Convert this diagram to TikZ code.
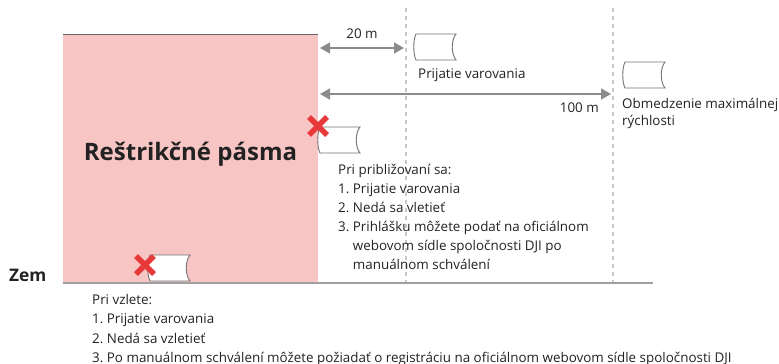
\documentclass[tikz,border=0pt]{standalone}
\usepackage{fontspec}
\setmainfont{Open Sans}
\usetikzlibrary{arrows.meta}
\frenchspacing
\definecolor{zonepink}{HTML}{F7C6C4}
\definecolor{txt}{HTML}{222222}
\definecolor{arrgray}{HTML}{8C8C8C}
\definecolor{dashgray}{HTML}{C8C8C8}
\definecolor{groundgray}{HTML}{A0A0A0}
\definecolor{xred}{HTML}{E8393A}
\tikzset{
  lbl/.style={anchor=base west, inner sep=0pt, text=txt, font=\fontsize{13.4}{19.3}\selectfont},
  dimarrow/.style={draw=arrgray, line width=1.4pt, {Triangle[length=10pt,width=11pt]}-{Triangle[length=10pt,width=11pt]}},
  vdash/.style={draw=dashgray, line width=1.5pt, dash pattern=on 4pt off 4pt},
  drone/.pic={
    \draw[draw=gray!90!black, fill=white, line width=0.9pt]
      (2,0) -- (42,0) .. controls (37,6) and (37,20) .. (42,26) -- (2,26)
      .. controls (-1,20) and (-1,6) .. (2,0) -- cycle;
  },
  redx/.pic={
    \draw[xred, line width=5.5pt] (-9,-9) -- (9,9) (-9,9) -- (9,-9);
  }
}
\begin{document}
\begin{tikzpicture}[x=1pt,y=-1pt]
\useasboundingbox (0,0) rectangle (779,364);
% zone
\fill[zonepink] (63,34) rectangle (318,283);
\draw[draw=gray!80!black, line width=1pt] (63,34) -- (318,34);
% dashed lines
\coordinate (d1t) at (406,8); \coordinate (d1b) at (406,283);
\coordinate (d2t) at (613,8); \coordinate (d2b) at (613,283);
\draw[vdash] (d1t) -- (d1b);
\draw[vdash] (d2t) -- (d2b);
% ground
\coordinate (g0) at (63,283); \coordinate (g1) at (653,283);
\draw[draw=groundgray, line width=1.5pt] (g0) -- (g1);
% arrows
\coordinate (a20l) at (320,48); \coordinate (a20r) at (404,48);
\draw[dimarrow] (a20l) -- (a20r);
\node[lbl, anchor=base] (t20) at (362,38) {20 m};
\coordinate (a100l) at (320,94); \coordinate (a100r) at (611,94);
\draw[dimarrow] (a100l) -- (a100r);
\node[lbl, anchor=base east] (t100) at (599,112) {100 m};
% drones
\pic at (414,34) {drone};
\pic at (623,62) {drone};
\pic at (318,127) {drone};
\pic at (148,255) {drone};
\pic at (318,126) {redx};
\pic at (145,265) {redx};
% texts
\node[lbl] (warn) at (418,78) {Prijatie varovania};
\node[lbl] (speed) at (622,108) {Obmedzenie maximálnej};
\node[lbl] (speed2) at (622,125.5) {rýchlosti};
% approach list
\node[lbl] (ap0) at (338,174) {Pri približovaní sa:};
\node[lbl] (ap1) at (338,193) {1. Prijatie varovania};
\node[lbl] (ap2) at (338,212) {2. Nedá sa vletieť};
\node[lbl] (ap3) at (338,231) {3. Prihlášku môžete podať na oficiálnom};
\node[lbl] (ap4) at (338,250) {\hphantom{3. }webovom sídle spoločnosti DJI po};
\node[lbl] (ap5) at (338,269) {\hphantom{3. }manuálnom schválení};
% take-off list
\node[lbl] (tk0) at (92,304) {Pri vzlete:};
\node[lbl] (tk1) at (92,323.5) {1. Prijatie varovania};
\node[lbl] (tk2) at (92,343) {2. Nedá sa vzletieť};
\node[lbl] (tk3) at (92,362) {3. Po manuálnom schválení môžete požiadať o registráciu na oficiálnom webovom sídle spoločnosti DJI};
\node[anchor=base, inner sep=0pt, text=txt, font=\fontsize{24}{28}\bfseries] (zone) at (190.5,160.5) {Reštrikčné pásma};
\node[anchor=base west, inner sep=0pt, text=txt, font=\fontsize{17.3}{20}\bfseries] (zem) at (9,281) {Zem};
\end{tikzpicture}
\end{document}
